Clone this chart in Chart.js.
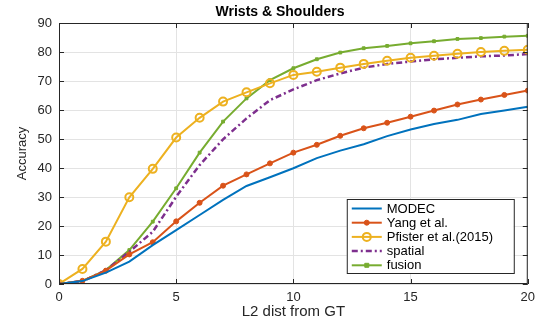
<!DOCTYPE html>
<html>
<head>
<meta charset="utf-8">
<script src="https://cdn.jsdelivr.net/npm/chart.js@4"></script>
<style>
  html, body { margin: 0; padding: 0; background: #fff; }
  #wrap { width: 541px; height: 324px; }
</style>
</head>
<body>
<div id="wrap"><canvas id="accChart" width="541" height="324"></canvas></div>
<script>
// Data
const xValues = [0, 1, 2, 3, 4, 5, 6, 7, 8, 9, 10, 11, 12, 13, 14, 15, 16, 17, 18, 19, 20];
const modec   = [0, 1.0, 3.9, 7.7, 13.4, 18.6, 23.8, 29.0, 33.8, 36.8, 39.9, 43.4, 46.0, 48.2, 51.0, 53.3, 55.2, 56.6, 58.6, 59.8, 61.1];
const yang    = [0, 1.1, 4.6, 10.2, 14.4, 21.6, 28.0, 33.9, 37.8, 41.6, 45.3, 48.0, 51.1, 53.7, 55.6, 57.7, 59.8, 61.9, 63.6, 65.2, 66.7];
const pfister = [0, 5.2, 14.6, 29.9, 39.7, 50.5, 57.3, 62.9, 66.1, 69.2, 72.1, 73.2, 74.6, 75.9, 77.0, 78.0, 78.7, 79.4, 80.0, 80.4, 80.8];
const spatial = [0, 1.0, 4.7, 11.1, 18.0, 30.1, 41.0, 49.9, 57.1, 63.4, 67.1, 70.3, 72.6, 74.6, 75.9, 76.7, 77.5, 78.0, 78.5, 78.8, 79.3];
const fusion  = [0, 1.1, 4.8, 11.7, 21.5, 33.0, 45.3, 56.0, 64.0, 70.3, 74.4, 77.5, 79.8, 81.3, 82.1, 83.0, 83.7, 84.5, 84.8, 85.3, 85.6];
const xTicks = [0, 5, 10, 15, 20];
const yTicks = [0, 10, 20, 30, 40, 50, 60, 70, 80, 90];

const FONT = "'Liberation Sans', Arial, sans-serif";
const AXIS_COLOR = '#262626';

function toPoints(arr) {
  return arr.map(function(v, i) { return { x: xValues[i], y: v }; });
}

// Title, inward ticks, box and legend drawn over the plot
const matlabLook = {
  id: 'matlabLook',
  afterDraw(chart) {
    const ctx = chart.ctx;
    const area = chart.chartArea;
    const xs = chart.scales.x, ys = chart.scales.y;
    ctx.save();

    // title
    ctx.fillStyle = '#000';
    ctx.font = 'bold 14px ' + FONT;
    ctx.textAlign = 'center';
    ctx.textBaseline = 'middle';
    ctx.fillText('Wrists & Shoulders', 280, 12.5);

    // box and inward ticks
    ctx.strokeStyle = AXIS_COLOR;
    ctx.lineWidth = 1;
    ctx.strokeRect(area.left + 0.5, area.top + 0.5, area.right - area.left - 1, area.bottom - area.top - 1);
    ctx.beginPath();
    xTicks.forEach(function(t) {
      const px = Math.round(xs.getPixelForValue(t)) + 0.5;
      ctx.moveTo(px, area.bottom); ctx.lineTo(px, area.bottom - 5);
      ctx.moveTo(px, area.top); ctx.lineTo(px, area.top + 5);
    });
    yTicks.forEach(function(t) {
      const py = Math.round(ys.getPixelForValue(t)) + 0.5;
      ctx.moveTo(area.left, py); ctx.lineTo(area.left + 5, py);
      ctx.moveTo(area.right, py); ctx.lineTo(area.right - 5, py);
    });
    ctx.stroke();

    // legend box
    const lw = 167, lh = 74;
    const lx = area.right - 14 - lw;
    const ly = area.bottom - 11 - lh;
    ctx.fillStyle = '#fff';
    ctx.fillRect(lx, ly, lw, lh);
    ctx.strokeStyle = AXIS_COLOR;
    ctx.strokeRect(lx + 0.5, ly + 0.5, lw, lh);

    ctx.font = '13px ' + FONT;
    ctx.textAlign = 'left';
    ctx.textBaseline = 'middle';
    chart.data.datasets.forEach(function(ds, i) {
      const cy = ly + 9.5 + i * 14.2;
      ctx.strokeStyle = ds.borderColor;
      ctx.lineWidth = ds.borderWidth;
      ctx.setLineDash(ds.borderDash || []);
      ctx.beginPath();
      ctx.moveTo(lx + 5, cy);
      ctx.lineTo(lx + 35, cy);
      ctx.stroke();
      ctx.setLineDash([]);
      if (ds.pointRadius > 0) {
        ctx.lineWidth = ds.pointBorderWidth || 1;
        ctx.fillStyle = ds.pointBackgroundColor;
        ctx.strokeStyle = ds.borderColor;
        const r = ds.pointRadius;
        ctx.beginPath();
        if (ds.pointStyle === 'rect') {
          ctx.rect(lx + 20 - r, cy - r, 2 * r, 2 * r);
        } else {
          ctx.arc(lx + 20, cy, r, 0, Math.PI * 2);
        }
        ctx.fill();
        ctx.stroke();
      }
      ctx.fillStyle = '#000';
      ctx.fillText(ds.label, lx + 40, cy + 0.5);
    });
    ctx.restore();
  }
};

const ctx = document.getElementById('accChart').getContext('2d');
const accChart = new Chart(ctx, {
  type: 'line',
  data: {
    datasets: [{
      label: 'MODEC',
      data: toPoints(modec),
      borderColor: '#0072BD',
      borderWidth: 2,
      pointRadius: 0
    }, {
      label: 'Yang et al.',
      data: toPoints(yang),
      borderColor: '#D95319',
      borderWidth: 2,
      pointStyle: 'circle',
      pointRadius: 2.5,
      pointBorderWidth: 1,
      pointBackgroundColor: '#D95319'
    }, {
      label: 'Pfister et al.(2015)',
      data: toPoints(pfister),
      borderColor: '#EDB120',
      borderWidth: 2,
      pointStyle: 'circle',
      pointRadius: 4,
      pointBorderWidth: 2,
      pointBackgroundColor: 'rgba(255,255,255,0)'
    }, {
      label: 'spatial',
      data: toPoints(spatial),
      borderColor: '#7E2F8E',
      borderWidth: 2.5,
      borderDash: [6, 3, 2, 3],
      pointRadius: 0
    }, {
      label: 'fusion',
      data: toPoints(fusion),
      borderColor: '#77AC30',
      borderWidth: 2,
      pointStyle: 'rect',
      pointRadius: 2,
      pointBorderWidth: 1,
      pointBackgroundColor: '#77AC30'
    }]
  },
  options: {
    responsive: false,
    animation: false,
    layout: {
      padding: { top: 23, right: 12, bottom: 0, left: 0 }
    },
    scales: {
      x: {
        type: 'linear',
        min: 0,
        max: 20,
        afterFit: function(scale) { scale.height = 40; },
        afterBuildTicks: function(scale) {
          scale.ticks = xTicks.map(function(v) { return { value: v }; });
        },
        grid: { color: '#e3e3e3', drawTicks: false },
        border: { display: false },
        ticks: {
          color: AXIS_COLOR,
          font: { family: FONT, size: 13 },
          padding: 6,
          maxRotation: 0
        },
        title: {
          display: true,
          text: 'L2 dist from GT',
          color: AXIS_COLOR,
          font: { family: FONT, size: 15 },
          padding: { top: 0, bottom: 3 }
        }
      },
      y: {
        type: 'linear',
        min: 0,
        max: 90,
        afterFit: function(scale) { scale.width = 59; },
        afterBuildTicks: function(scale) {
          scale.ticks = yTicks.map(function(v) { return { value: v }; });
        },
        grid: { color: '#e3e3e3', drawTicks: false },
        border: { display: false },
        ticks: {
          color: AXIS_COLOR,
          font: { family: FONT, size: 13 },
          padding: 7
        },
        title: {
          display: true,
          text: 'Accuracy',
          color: AXIS_COLOR,
          font: { family: FONT, size: 13 },
          padding: { top: 15, bottom: 0 }
        }
      }
    },
    plugins: {
      legend: { display: false },
      title: { display: false },
      tooltip: { enabled: false }
    },
    elements: {
      line: { tension: 0 }
    }
  },
  plugins: [matlabLook]
});
</script>
</body>
</html>
